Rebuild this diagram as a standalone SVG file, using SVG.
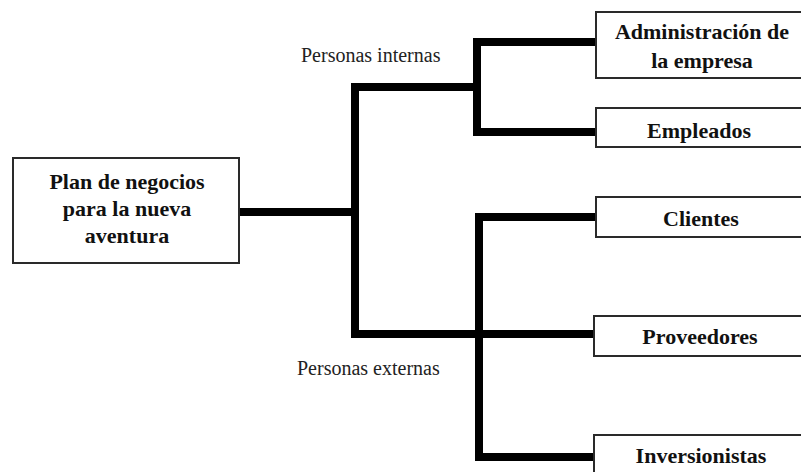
<svg xmlns="http://www.w3.org/2000/svg" width="801" height="472" viewBox="0 0 801 472">
<style>
.box{fill:#fff;stroke:#2a2a2a;stroke-width:2}
.lbl{font-family:"Liberation Serif","Times New Roman",serif;font-weight:bold;font-size:22px;fill:#111;text-anchor:middle}
.side{font-family:"Liberation Serif","Times New Roman",serif;font-size:20px;fill:#222}
.con{fill:none;stroke:#000;stroke-width:8;stroke-linejoin:miter;stroke-linecap:butt}
</style>
<rect width="801" height="472" fill="#fff"/>
<g id="connectors">
<path class="con" d="M239 212 H355"/>
<path class="con" d="M596 42 H477 V132 H596"/>
<path class="con" d="M477 87 H355 V334 H596"/>
<path class="con" d="M596 217 H479 V457 H596"/>
</g>
<g id="root">
<rect class="box" x="13" y="158" width="226" height="105"/>
<text class="lbl" x="127" y="189">Plan de negocios</text>
<text class="lbl" x="127" y="216">para la nueva</text>
<text class="lbl" x="127" y="243">aventura</text>
</g>
<g id="admin">
<rect class="box" x="596" y="12" width="230" height="66"/>
<text class="lbl" x="702" y="39">Administración de</text>
<text class="lbl" x="702" y="68">la empresa</text>
</g>
<g id="empleados">
<rect class="box" x="596" y="108" width="230" height="39"/>
<text class="lbl" x="699" y="138">Empleados</text>
</g>
<g id="clientes">
<rect class="box" x="596" y="197" width="230" height="40"/>
<text class="lbl" x="701" y="226">Clientes</text>
</g>
<g id="proveedores">
<rect class="box" x="594" y="316" width="230" height="40"/>
<text class="lbl" x="700" y="344">Proveedores</text>
</g>
<g id="inversionistas">
<rect class="box" x="594" y="435" width="230" height="50"/>
<text class="lbl" x="701" y="463">Inversionistas</text>
</g>
<g id="labels">
<text class="side" x="301" y="62">Personas internas</text>
<text class="side" x="297" y="375">Personas externas</text>
</g>
</svg>
